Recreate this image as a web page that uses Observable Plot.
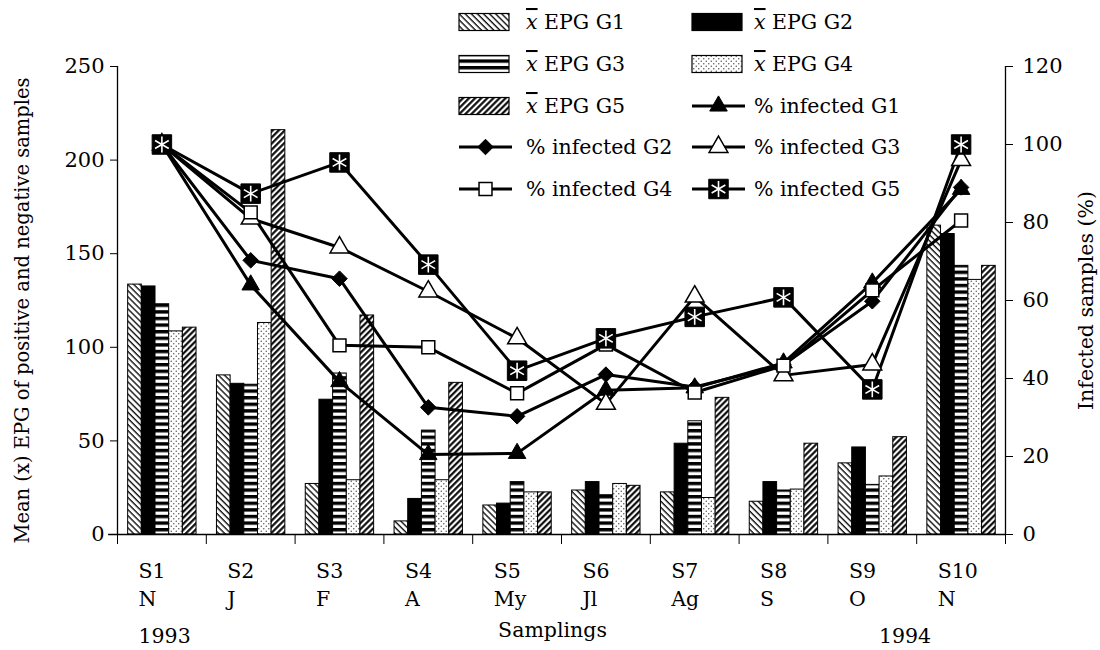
<!DOCTYPE html>
<html><head><meta charset="utf-8">
<script src="https://cdn.jsdelivr.net/npm/d3@7"></script>
<script src="https://cdn.jsdelivr.net/npm/@observablehq/plot@0.6"></script>
<style>
body{margin:0;background:#fff;color:#000;font-family:"DejaVu Serif",serif;}
#wrap{position:relative;width:1100px;height:650px;}
#legend{position:absolute;left:0;top:0;pointer-events:none;}
</style></head><body>
<svg width="0" height="0" style="position:absolute">
<defs>
<pattern id="pG1" patternUnits="userSpaceOnUse" width="4.3" height="10" patternTransform="rotate(-45)">
<rect width="4.3" height="10" fill="#fff"/><line x1="1" y1="-1" x2="1" y2="11" stroke="#000" stroke-width="1.3"/></pattern>
<pattern id="pG5" patternUnits="userSpaceOnUse" width="4.3" height="10" patternTransform="rotate(45)">
<rect width="4.3" height="10" fill="#fff"/><line x1="1.2" y1="-1" x2="1.2" y2="11" stroke="#000" stroke-width="2.1"/></pattern>
<pattern id="pG3" patternUnits="userSpaceOnUse" width="10" height="6.6">
<rect width="10" height="6.6" fill="#fff"/><rect y="0" width="10" height="3.4" fill="#000"/></pattern>
<pattern id="pG4" patternUnits="userSpaceOnUse" width="5" height="5">
<rect width="5" height="5" fill="#fff"/><circle cx="1.25" cy="1.25" r="0.75" fill="#555"/><circle cx="3.75" cy="3.75" r="0.75" fill="#555"/></pattern>
</defs></svg>
<div id="wrap"></div>
<script>
const samplings = ["S1","S2","S3","S4","S5","S6","S7","S8","S9","S10"];
const months = ["N","J","F","A","My","Jl","Ag","S","O","N"];
const years = ["1993","1994"];
const yTicksLeft = [0,50,100,150,200,250];
const yTicksRight = [0,20,40,60,80,100,120];
const leftLabel = "Mean (x) EPG of positive and negative samples";
const rightLabel = "Infected samples (%)";
const xLabel = "Samplings";

// mean EPG per group (left axis)
const epgG1 = [133.5,85,27,7,15.5,23.5,22.5,17.5,38,165];
const epgG2 = [132.5,80.5,72,19,16.5,28,48.5,28,46.5,160.5];
const epgG3 = [123,80,86,55.5,28,21,60.5,23.5,26.5,143.5];
const epgG4 = [108.5,113,29,29,22.5,27,19.5,24,31,136];
const epgG5 = [110.5,216,117,81,22.5,26,73,48.5,52,143.5];
// % infected per group (right axis)
const infG1 = [100,64,39.2,20.5,20.8,37,37.6,44,64.5,88.5];
const infG2 = [100,70.3,65.6,32.6,30.3,41,37.8,43.5,59.8,89];
const infG3 = [100,81,73.6,62.3,50.3,33.5,61,40.8,43.6,96];
const infG4 = [100,82.6,48.5,48,36.2,48.7,36.4,43.3,62.6,80.5];
const infG5 = [100,87.4,95.4,69.2,42,50.3,55.8,60.8,37.2,100];

const K = 250/120; // right-axis to left-axis units
const epg = [epgG1,epgG2,epgG3,epgG4,epgG5];
const inf = [infG1,infG2,infG3,infG4,infG5];
const barFills = ["url(#pG1)","#000","url(#pG3)","url(#pG4)","url(#pG5)"];
const off = 0.12, bw = 0.154;
const FS = 20.5;

const barMarks = epg.map((vals,k) => Plot.rectY(vals.map((v,i)=>({i,v})), {
  x1: d => d.i + off + k*bw, x2: d => d.i + off + (k+1)*bw, y1: 0, y2: "v",
  fill: barFills[k], stroke: "#000", strokeWidth: 1
}));
const pts = inf.map(vals => vals.map((v,i)=>({i, v})));
const lineMarks = pts.map(p => Plot.line(p, {x: d=>d.i+0.5, y: d=>d.v*K, stroke:"#000", strokeWidth:3}));
const P = (k, o) => Plot.dot(pts[k], {x: d=>d.i+0.5, y: d=>d.v*K, ...o});
const dotMarks = [
  P(0, {symbol:"triangle", r:6.5, fill:"#000", stroke:"#000", strokeWidth:1}),
  P(1, {symbol:"diamond2", r:7, fill:"#000", stroke:"#000", strokeWidth:1}),
  P(2, {symbol:"triangle", r:7, fill:"#fff", stroke:"#000", strokeWidth:1.5}),
  P(3, {symbol:"square", r:7.3, fill:"#fff", stroke:"#000", strokeWidth:1.5}),
  P(4, {symbol:"square", r:11, fill:"#000", stroke:"#000", strokeWidth:1}),
  P(4, {symbol:"asterisk", r:7.5, fill:"none", stroke:"#fff", strokeWidth:1.6})
];

const chart = Plot.plot({
  width: 1100, height: 650,
  marginLeft: 117, marginRight: 95, marginTop: 66, marginBottom: 116,
  x: {type: "linear", domain: [0,10]},
  y: {domain: [0,250]},
  style: {fontFamily: "DejaVu Serif, serif", fontSize: FS + "px", color: "#000", background: "#fff"},
  marks: [
    Plot.axisY({ticks: yTicksLeft, tickSize: 7, tickPadding: 6, label: null, tickFormat: d=>d, fontSize: 21}),
    Plot.axisY({anchor: "right", ticks: yTicksRight.map(v=>v*K), tickFormat: v=>Math.round(v/K), tickSize: 7, tickPadding: 10, label: null, fontSize: 21}),
    Plot.axisX({ticks: d3.range(0,11), tickFormat: () => "", tickSize: 10, label: null}),
    ...barMarks,
    Plot.ruleX([0], {y1: 0, y2: 250, stroke:"#000", strokeWidth:1.3}),
    Plot.ruleX([10], {y1: 0, y2: 250, stroke:"#000", strokeWidth:1.3}),
    Plot.ruleY([0], {x1: -0.1, x2: 10, stroke:"#000", strokeWidth:1.3}),
    ...lineMarks,
    ...dotMarks,
    Plot.text(samplings, {x: (d,i)=>i, y: 0, text: d=>d, textAnchor:"start", dx: 21, dy: 37, fill:"#000", fontSize: FS}),
    Plot.text(months, {x: (d,i)=>i, y: 0, text: d=>d, textAnchor:"start", dx: 21, dy: 65, fill:"#000", fontSize: FS}),
    Plot.text([years[0]], {x: 0, y: 0, text: d=>d, textAnchor:"start", dx: 21, dy: 102, fill:"#000", fontSize: FS}),
    Plot.text([years[1]], {x: 8, y: 0, text: d=>d, textAnchor:"start", dx: 51, dy: 102, fill:"#000", fontSize: FS}),
    Plot.text([xLabel], {frameAnchor:"bottom", textAnchor:"middle", text: d=>d, dx: -9, dy: 102, fill:"#000", fontSize: FS}),
    Plot.text([leftLabel], {frameAnchor:"left", textAnchor:"middle", text: d=>d, rotate: -90, dx: -95, dy: 10, fill:"#000", fontSize: 19.5}),
    Plot.text([rightLabel], {frameAnchor:"right", textAnchor:"middle", text: d=>d, rotate: -90, dx: 81, dy: 0, fill:"#000", fontSize: FS})
  ]
});
document.getElementById("wrap").appendChild(chart);

// Legend overlay
const legendItems = [
  {type:"bar", k:0, label:"EPG G1"}, {type:"bar", k:1, label:"EPG G2"},
  {type:"bar", k:2, label:"EPG G3"}, {type:"bar", k:3, label:"EPG G4"},
  {type:"bar", k:4, label:"EPG G5"}, {type:"line", k:0, label:"% infected G1"},
  {type:"line", k:1, label:"% infected G2"}, {type:"line", k:2, label:"% infected G3"},
  {type:"line", k:3, label:"% infected G4"}, {type:"line", k:4, label:"% infected G5"}
];
const colX = [459, 692], textX = [526, 754], rowY = [22, 64, 106, 147, 189];
const lg = d3.select("#wrap").append("svg").attr("id","legend").attr("width",1100).attr("height",220)
  .style("font-family","DejaVu Serif, serif").style("font-size","20.5px");
const sym = (type, r) => d3.symbol(type, Math.PI*r*r)();
legendItems.forEach((it, j) => {
  const c = j % 2, r = Math.floor(j/2);
  const x0 = colX[c], yc = rowY[r];
  const g = lg.append("g");
  if (it.type === "bar") {
    g.append("rect").attr("x", x0).attr("y", yc-8.5).attr("width", 50).attr("height", 17)
      .attr("fill", barFills[it.k]).attr("stroke","#000").attr("stroke-width",1.2);
    const t = g.append("text").attr("x", textX[c]).attr("y", yc+7);
    t.append("tspan").attr("font-style","italic").attr("text-decoration","overline").text("x");
    t.append("tspan").text(" " + it.label);
  } else {
    g.append("line").attr("x1", x0).attr("x2", x0+53).attr("y1", yc).attr("y2", yc).attr("stroke","#000").attr("stroke-width",3);
    const cx = x0 + 26.5;
    const put = (type, r, fill, stroke, sw) => g.append("path").attr("d", sym(type, r))
      .attr("transform", `translate(${cx},${yc})`).attr("fill", fill).attr("stroke", stroke).attr("stroke-width", sw);
    if (it.k === 0) put(d3.symbolTriangle, 6.5, "#000", "#000", 1);
    if (it.k === 1) put(d3.symbolDiamond2, 7, "#000", "#000", 1);
    if (it.k === 2) put(d3.symbolTriangle, 7, "#fff", "#000", 1.5);
    if (it.k === 3) put(d3.symbolSquare, 7.3, "#fff", "#000", 1.5);
    if (it.k === 4) { put(d3.symbolSquare, 11, "#000", "#000", 1); put(d3.symbolAsterisk, 7.5, "none", "#fff", 1.6); }
    g.append("text").attr("x", textX[c]).attr("y", yc+7).text(it.label);
  }
});
</script></body></html>
